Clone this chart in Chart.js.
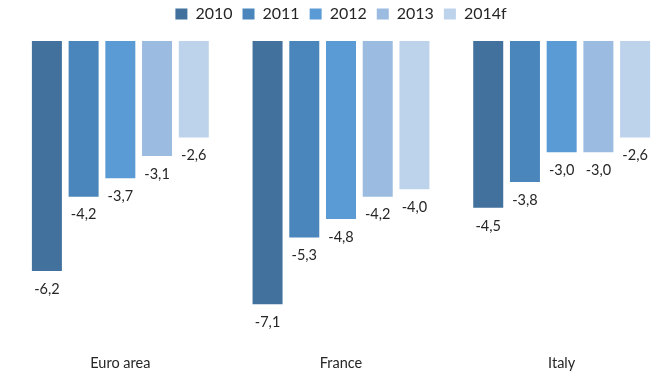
<!DOCTYPE html>
<html>
<head>
<meta charset="utf-8">
<script src="https://cdn.jsdelivr.net/npm/chart.js@4/dist/chart.umd.min.js"></script>
<style>
  html, body { margin: 0; padding: 0; background: #fff; overflow: hidden; width: 653px; height: 371px; }
  #wrap { position: absolute; left: 0; top: -4px; width: 672px; height: 380px; }
</style>
</head>
<body>
<div id="wrap"><canvas id="chart"></canvas></div>
<script>
// Government balance, % of GDP
const categories = ['Euro area', 'France', 'Italy'];
const years = ['2010', '2011', '2012', '2013', '2014f'];
const values2010 = [-6.2, -7.1, -4.5];
const values2011 = [-4.2, -5.3, -3.8];
const values2012 = [-3.7, -4.8, -3.0];
const values2013 = [-3.1, -4.2, -3.0];
const values2014f = [-2.6, -4.0, -2.6];
const seriesValues = [values2010, values2011, values2012, values2013, values2014f];
const colors = ['#41719c', '#4a86bb', '#5b9bd5', '#9bbbe0', '#bdd2eb'];

const FONT = 'Lato, "Open Sans", sans-serif';

// Writes each bar's value (comma decimal) just below its end
const valueLabels = {
  id: 'valueLabels',
  afterDatasetsDraw(chart) {
    const ctx = chart.ctx;
    ctx.save();
    ctx.font = '14.5px ' + FONT;
    ctx.fillStyle = '#262626';
    ctx.textAlign = 'center';
    ctx.textBaseline = 'middle';
    chart.data.datasets.forEach((ds, i) => {
      chart.getDatasetMeta(i).data.forEach((bar, j) => {
        const txt = ds.data[j].toFixed(1).replace('.', ',');
        ctx.fillText(txt, bar.x, bar.y + 18);
      });
    });
    ctx.restore();
  }
};

new Chart(document.getElementById('chart'), {
  type: 'bar',
  data: {
    labels: categories,
    datasets: years.map((y, i) => ({
      label: y,
      data: seriesValues[i],
      backgroundColor: colors[i],
      borderWidth: 0,
      categoryPercentage: 0.832,
      barPercentage: 0.817
    }))
  },
  options: {
    responsive: true,
    maintainAspectRatio: false,
    animation: false,
    layout: { padding: { left: 10, right: 0, top: 0, bottom: 0 } },
    plugins: {
      legend: {
        position: 'top',
        labels: {
          boxWidth: 12,
          boxHeight: 11,
          padding: 10,
          color: '#262626',
          font: { family: FONT, size: 16 }
        }
      },
      tooltip: { enabled: false }
    },
    scales: {
      x: {
        grid: { display: false, drawTicks: false },
        border: { display: false },
        ticks: { color: '#262626', font: { family: FONT, size: 14.5 }, padding: 4 }
      },
      y: {
        min: -8.35,
        max: 0.243,
        grid: {
          drawTicks: false,
          lineWidth: 2,
          color: (c) => (c.tick && c.tick.value === 0 ? '#dedede' : 'rgba(0,0,0,0)')
        },
        border: { display: false },
        ticks: { display: false, stepSize: 1 }
      }
    }
  },
  plugins: [valueLabels]
});
</script>
</body>
</html>
